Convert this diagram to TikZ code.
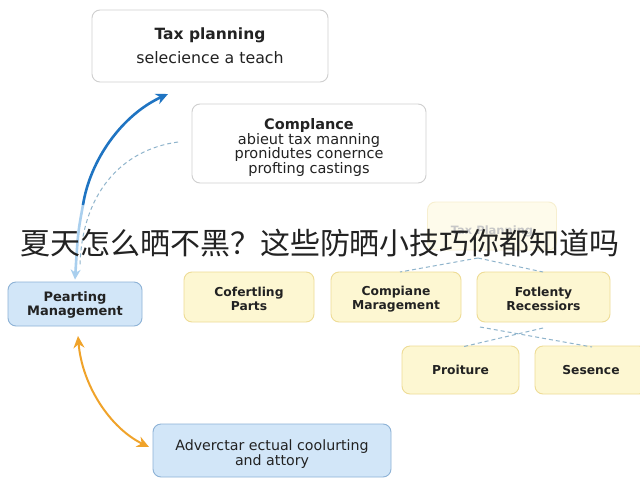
\documentclass[tikz,border=0pt]{standalone}
\usepackage{fontspec}
\setmainfont{DejaVu Sans}
\newfontfamily\cjk{Noto Sans CJK SC}
\usetikzlibrary{arrows.meta}
\definecolor{txt}{HTML}{222222}
\definecolor{darkblue}{HTML}{1F74C2}
\definecolor{lightblue}{HTML}{A9CFEE}
\definecolor{dashblue}{HTML}{8FB4CC}
\definecolor{orangeline}{HTML}{F0A32A}
\definecolor{yfill}{HTML}{FDF7D2}
\definecolor{ydraw}{HTML}{EEDC96}
\definecolor{bfill}{HTML}{D2E6F8}
\definecolor{bdraw}{HTML}{8DB2D6}
\definecolor{wdraw}{HTML}{CFCFCF}
\tikzset{
  box/.style={rectangle, rounded corners=8pt, inner sep=0pt, align=center, text=txt, line width=0.9pt},
  whitebox/.style={box, fill=white, draw=wdraw},
  yellowbox/.style={box, fill=yfill, draw=ydraw, font=\fontsize{12.3}{14}\selectfont\bfseries},
  bluebox/.style={box, fill=bfill, draw=bdraw},
  dashconn/.style={draw=dashblue, line width=1pt, dash pattern=on 4pt off 3pt},
  upconn/.style={draw=darkblue, line width=2.6pt, -{Stealth[length=12pt,width=11pt]}},
  downconn/.style={draw=lightblue, line width=2.6pt, -{Stealth[length=10pt,width=10pt]}},
  bothconn/.style={draw=orangeline, line width=2pt, {Stealth[length=12pt,width=11pt]}-{Stealth[length=12pt,width=11pt]}}
}
\begin{document}
\begin{tikzpicture}[x=1pt,y=-1pt]
\useasboundingbox (0,0) rectangle (640,480);
\fill[white] (0,0) rectangle (640,480);

% boxes
\node[whitebox, minimum width=236pt, minimum height=72pt, font=\fontsize{15.8}{24}\selectfont] (tp) at (210,46)
  {{\fontsize{15.5}{24}\selectfont\bfseries Tax planning}\\selecience a teach};
\node[whitebox, minimum width=234pt, minimum height=79pt, font=\fontsize{14.5}{14.4}\selectfont] (cp) at (309,143.5)
  {\rule{0pt}{19pt}{\bfseries Complance}\\abieut tax manning\\pronidutes conernce\\profting castings};
\node[box, fill=yfill!45, draw=ydraw!45, minimum width=129pt, minimum height=48pt, text=black!22, font=\fontsize{11.5}{14}\selectfont\bfseries] (fb) at (492,226) {\rule{0pt}{20pt}Tax Planning};

\node[bluebox, minimum width=134pt, minimum height=44pt, font=\fontsize{13}{14}\selectfont\bfseries] (pm) at (75,304)
  {\rule{0pt}{12pt}Pearting\\Management};

\node[yellowbox, minimum width=130pt, minimum height=50pt] (cf) at (249,297) {\rule{0pt}{13pt}Cofertling\\Parts};
\node[yellowbox, minimum width=130pt, minimum height=50pt] (cm) at (396,297) {\rule{0pt}{13pt}Compiane\\Maragement};
\node[yellowbox, minimum width=133pt, minimum height=50pt] (fr) at (543.5,297) {\rule{0pt}{13pt}Fotlenty\\Recessiors};
\node[yellowbox, minimum width=117pt, minimum height=48pt] (pr) at (460.5,370) {Proiture};
\node[yellowbox, minimum width=112pt, minimum height=48pt] (se) at (591,370) {Sesence};

\node[bluebox, minimum width=238pt, minimum height=53pt, font=\fontsize{14.2}{15}\selectfont] (ad) at (272,450.5)
  {\rule{0pt}{17pt}Adverctar ectual coolurting\\and attory};

% free ends
\coordinate (j) at (83,205);
\coordinate (d0) at (178,142);
\coordinate (d1) at (80,265);
\coordinate (o1) at (78,336);
\coordinate (o2) at (149,447);
\coordinate (t1) at (168,94);
\coordinate (f0) at (478,258);
\coordinate (m0) at (400,272);
\coordinate (m1) at (543,272);
\coordinate (x0) at (480,327);
\coordinate (x1) at (592,347);
\coordinate (x2) at (543,328);
\coordinate (x3) at (462,347);

% connectors
\draw[dashconn] (d0) .. controls (120,150) and (82,195) .. (d1);
\draw[downconn] (j) .. controls (78,232) .. ([yshift=2pt]pm.north);
\draw[upconn] (j) .. controls (90,160) and (122,115) .. (t1);
\draw[bothconn] (o1) .. controls (82,385) and (110,428) .. (o2);
\draw[dashconn] (f0) -- (m0);
\draw[dashconn] (f0) -- (m1);
\draw[dashconn] (x0) -- (x1);
\draw[dashconn] (x2) -- (x3);

% overlay caption
\node[text=txt, inner sep=0pt, font=\cjk\fontsize{30}{32}\selectfont] (cap) at (320,243)
  {夏天怎么晒不黑？这些防晒小技巧你都知道吗};
\end{tikzpicture}
\end{document}
